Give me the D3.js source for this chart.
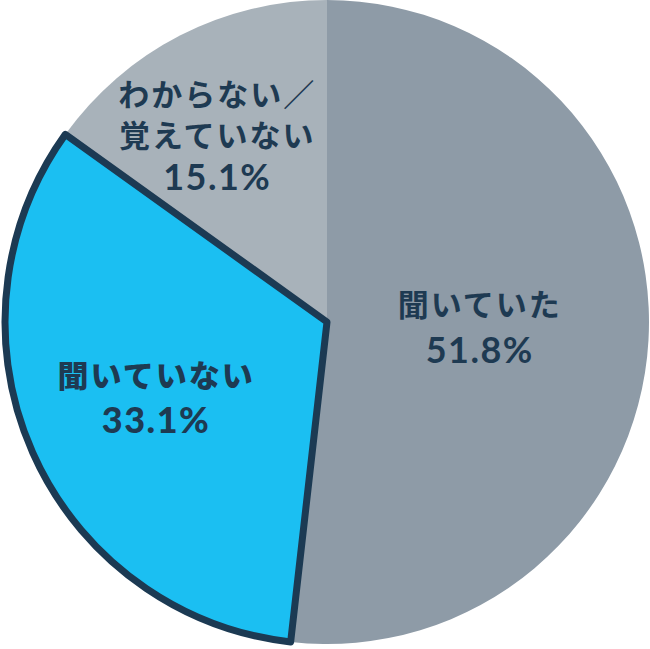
<!DOCTYPE html>
<html><head><meta charset="utf-8">
<script src="https://cdn.jsdelivr.net/npm/d3@7"></script>
<style>
html,body{margin:0;padding:0;background:#fff;}
svg{display:block;}
</style></head>
<body>
<svg id="chart" width="650" height="649"></svg>
<script>
const categories = ["聞いていた", "聞いていない", "わからない／覚えていない"];
const labelLines = [["聞いていた"], ["聞いていない"], ["わからない／", "覚えていない"]];
const values = [51.8, 33.1, 15.1];
const valueLabels = ["51.8%", "33.1%", "15.1%"];

const colors = ["#8e9ba7", "#1bbff2", "#a8b2ba"];
const textColor = "#1e3a52";
const W = 650, H = 649;
const cx = 327, cy = 322, R = 322;

const svg = d3.select("#chart");
const g = svg.append("g").attr("transform", `translate(${cx},${cy})`);

const pie = d3.pie().sort(null).value(d => d)(values);
const arc = d3.arc().innerRadius(0).outerRadius(R);

const order = [0, 2, 1];
order.forEach(i => {
  const a = pie[i];
  g.append("path")
    .attr("d", arc(a))
    .attr("fill", colors[i])
    .attr("stroke", i === 1 ? "#1c3a53" : "none")
    .attr("stroke-width", i === 1 ? 7 : 0)
    .attr("stroke-linejoin", "round");
});

const labelR = [153, 187, 214];
const nudgeX = [0, 0, -12];
const nudgeY = [-3, 0, 4];
const lineH = [45, 44, 41];
const weights = [700, 900, 700];
pie.forEach((a, i) => {
  const mid = (a.startAngle + a.endAngle) / 2;
  const x = Math.sin(mid) * labelR[i] + nudgeX[i];
  const y = -Math.cos(mid) * labelR[i] + nudgeY[i];
  const lines = labelLines[i].concat([valueLabels[i]]);
  const n = lines.length;
  const t = g.append("text")
    .attr("text-anchor", "middle")
    .attr("fill", textColor)
    .style("font-family", "'Noto Sans CJK JP', sans-serif")
    .style("font-weight", weights[i]);
  lines.forEach((ln, j) => {
    const isNum = j === n - 1;
    t.append("tspan")
      .attr("x", x)
      .attr("y", y + (j - (n - 1) / 2) * lineH[i])
      .attr("dy", "0.36em")
      .style("font-size", isNum ? "36px" : "31px")
      .style("letter-spacing", isNum ? "1.5px" : "2px")
      .style("font-family", isNum ? "Lato, 'Noto Sans CJK JP', sans-serif" : "'Noto Sans CJK JP', sans-serif")
      .text(ln);
  });
});
</script>
</body></html>
